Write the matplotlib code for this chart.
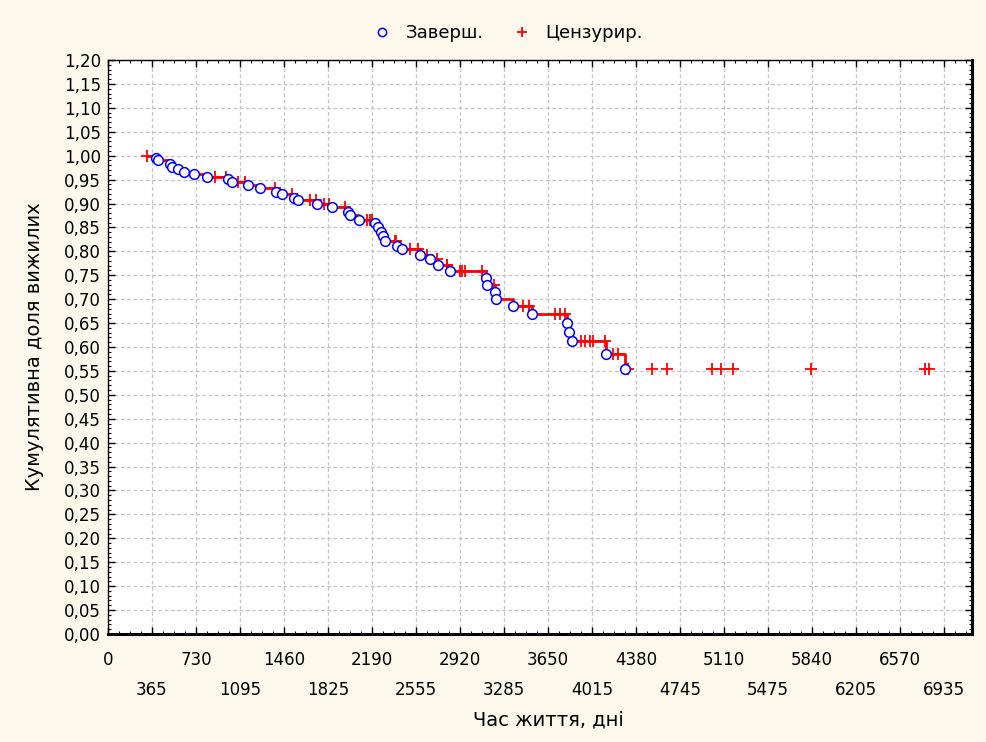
import numpy as np
import matplotlib
matplotlib.use("Agg")
import matplotlib.pyplot as plt
from matplotlib.ticker import MultipleLocator, FixedLocator

plt.rcParams['font.family'] = ['DejaVu Sans']

# completed (event) times, days, and survival after the event
event_days = [398, 417, 514, 533, 583, 630, 713, 819, 993, 1031, 1159, 1261,
              1394, 1441, 1543, 1579, 1731, 1856, 1988, 2007, 2085, 2215,
              2240, 2262, 2281, 2298, 2400, 2436, 2588, 2671, 2737, 2837,
              3133, 3146, 3212, 3222, 3362, 3515, 3810, 3827, 3846, 4128, 4289]
event_surv = [0.996, 0.990, 0.983, 0.977, 0.973, 0.966, 0.961, 0.956, 0.951,
              0.946, 0.938, 0.933, 0.925, 0.920, 0.912, 0.907, 0.900, 0.892,
              0.883, 0.875, 0.866, 0.859, 0.850, 0.841, 0.832, 0.822, 0.812,
              0.804, 0.792, 0.783, 0.772, 0.758, 0.745, 0.730, 0.716, 0.700,
              0.686, 0.670, 0.650, 0.632, 0.612, 0.586, 0.553]

# censored times and the level they sit on
cens_days = [326, 888, 980, 1081, 1136, 1385, 1524, 1676, 1723, 1794, 1836,
             1966, 2146, 2173, 2187, 2381, 2389, 2505, 2574, 2644, 2727, 2809,
             2815, 2920, 2940, 2961, 3100, 3200, 3440, 3495, 3708, 3749, 3791,
             3921, 3960, 3998, 4026, 4123, 4191, 4233, 4316, 4510, 4634, 5007,
             5082, 5187, 5829, 6777, 6813]
cens_surv = [1.000, 0.956, 0.956, 0.946, 0.946, 0.933, 0.920, 0.907, 0.907,
             0.900, 0.900, 0.892, 0.866, 0.866, 0.866, 0.822, 0.822, 0.804,
             0.804, 0.792, 0.783, 0.772, 0.772, 0.758, 0.758, 0.758, 0.758,
             0.730, 0.686, 0.686, 0.670, 0.670, 0.670, 0.612, 0.612, 0.612,
             0.612, 0.612, 0.586, 0.586, 0.553, 0.553, 0.553, 0.553, 0.553,
             0.553, 0.553, 0.553, 0.553]

line_end = 4320  # step line stops at first censored point after last event

bg = '#FDF8EC'
fig = plt.figure(figsize=(9.87, 7.42), dpi=100, facecolor=bg)
ax = fig.add_axes([0.1094, 0.1456, 0.8754, 0.7735])
ax.set_facecolor('white')

# step line
pts = sorted(list(zip(event_days, event_surv)) + list(zip(cens_days, cens_surv)))
lx = [p[0] for p in pts if p[0] <= line_end]
ly = [p[1] for p in pts if p[0] <= line_end]
ax.plot(lx, ly, drawstyle='steps-post', color='red', lw=2, zorder=3)

ax.plot(event_days, event_surv, ls='none', marker='o', ms=7, mfc='white',
        mec='blue', mew=1.1, zorder=5, label='Заверш.')
ax.plot(cens_days, cens_surv, ls='none', marker='+', ms=8, color='red',
        mew=1.3, zorder=4, label='Цензурир.')

ax.set_xlim(0, 7167)
ax.set_ylim(0, 1.2)

xt = np.arange(0, 6936, 365)
ax.xaxis.set_major_locator(FixedLocator(xt))
ax.set_xticklabels([str(v) if i % 2 == 0 else '\n' + str(v) for i, v in enumerate(xt)])
for lbl in ax.get_xticklabels():
    lbl.set_linespacing(1.85)
ax.xaxis.set_minor_locator(MultipleLocator(365 / 4))
yt = np.arange(0, 1.2001, 0.05)
ax.yaxis.set_major_locator(FixedLocator(yt))
ax.set_yticklabels([('%.2f' % v).replace('.', ',') for v in yt])
ax.yaxis.set_minor_locator(MultipleLocator(0.01))

ax.tick_params(which='both', direction='in', top=True, right=True, labelsize=12)
ax.tick_params(which='major', length=5, width=1)
ax.tick_params(which='minor', length=2.5, width=0.8)
ax.tick_params(axis='x', pad=12)
ax.tick_params(axis='y', pad=5)

ax.grid(True, which='major', color='#c4c4c4', ls=(0, (3, 2)), lw=0.9)
ax.set_axisbelow(True)

for s in ['left', 'top']:
    ax.spines[s].set_linewidth(1.0)
for s in ['right', 'bottom']:
    ax.spines[s].set_linewidth(2.2)

ax.set_xlabel('Час життя, дні', fontsize=14)
ax.xaxis.set_label_coords(0.51, -0.134)
ax.set_ylabel('Кумулятивна доля вижилих', fontsize=14, labelpad=14)

fig.legend(loc='center', bbox_to_anchor=(0.51, 0.955), ncol=2, frameon=False,
           fontsize=13, handletextpad=0.3, columnspacing=1.1, markerscale=0.85)

fig.savefig('out.png', dpi=100, facecolor=bg)
